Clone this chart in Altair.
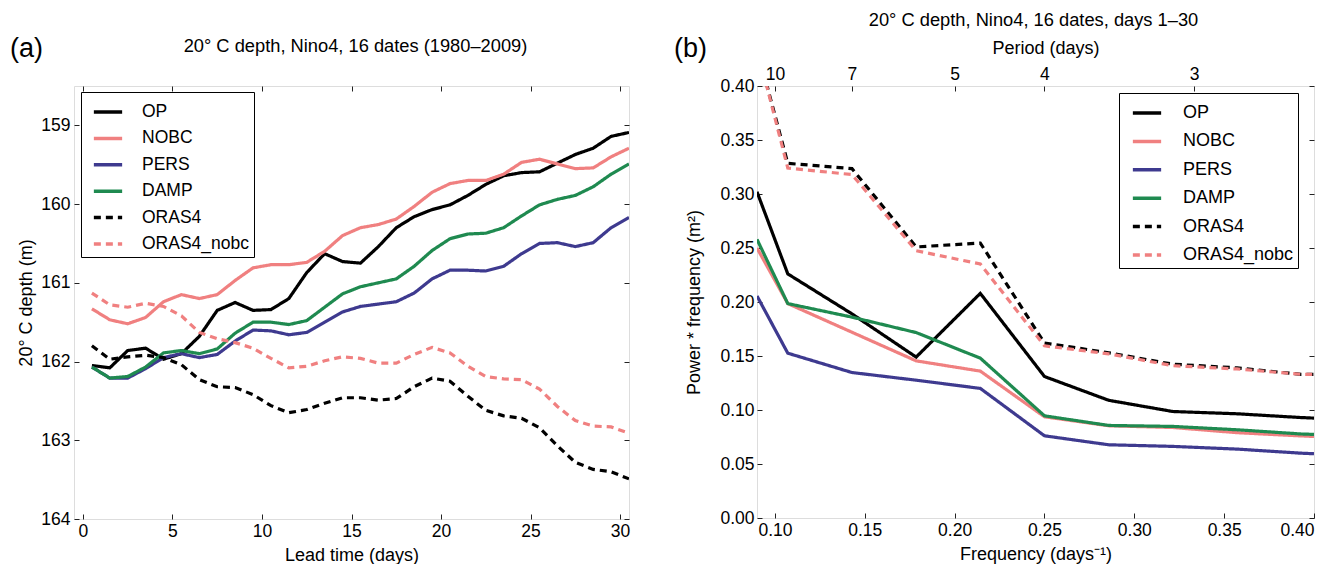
import altair as alt
import pandas as pd

FONT = "Liberation Sans"

series = ["OP", "NOBC", "PERS", "DAMP", "ORAS4", "ORAS4_nobc"]
colors = ["#000000", "#F08080", "#3E3A8F", "#1F8A50", "#000000", "#F08080"]
dashes = [[1, 0], [1, 0], [1, 0], [1, 0], [7, 5], [7, 5]]

# ---------- panel (a): 20C depth vs lead time ----------
lead = [0.5 + k for k in range(31)]
a_OP = [162.05, 162.08, 161.86, 161.83, 161.97, 161.90, 161.68, 161.35, 161.25, 161.35, 161.34,
        161.20, 160.87, 160.63, 160.73, 160.75, 160.54, 160.30, 160.16, 160.07, 160.01, 159.89,
        159.75, 159.64, 159.60, 159.59, 159.48, 159.37, 159.29, 159.14, 159.09]
a_NOBC = [161.33, 161.47, 161.52, 161.44, 161.24, 161.15, 161.20, 161.15, 160.97, 160.81, 160.77,
          160.77, 160.74, 160.60, 160.40, 160.30, 160.26, 160.19, 160.03, 159.85, 159.74, 159.70,
          159.70, 159.62, 159.47, 159.43, 159.49, 159.55, 159.54, 159.40, 159.29]
a_PERS = [162.07, 162.21, 162.21, 162.09, 161.95, 161.90, 161.95, 161.91, 161.74, 161.60, 161.61,
          161.66, 161.63, 161.50, 161.37, 161.30, 161.27, 161.24, 161.13, 160.95, 160.84, 160.84,
          160.85, 160.79, 160.63, 160.50, 160.49, 160.54, 160.49, 160.30, 160.17]
a_DAMP = [162.07, 162.21, 162.19, 162.07, 161.89, 161.86, 161.90, 161.84, 161.64, 161.50, 161.50,
          161.53, 161.48, 161.31, 161.14, 161.05, 161.00, 160.95, 160.79, 160.59, 160.44, 160.38,
          160.37, 160.30, 160.15, 160.01, 159.94, 159.89, 159.78, 159.62, 159.49]
a_ORAS4 = [161.80, 161.97, 161.94, 161.92, 161.95, 162.04, 162.23, 162.32, 162.33, 162.42, 162.56,
           162.65, 162.61, 162.53, 162.46, 162.46, 162.49, 162.47, 162.32, 162.21, 162.25, 162.44,
           162.62, 162.69, 162.72, 162.84, 163.07, 163.28, 163.37, 163.40, 163.49]
a_ORAS4_nobc = [161.13, 161.28, 161.31, 161.26, 161.30, 161.42, 161.63, 161.71, 161.76, 161.83, 161.96,
                162.08, 162.06, 161.99, 161.94, 161.96, 162.02, 162.02, 161.91, 161.82, 161.89, 162.06,
                162.19, 162.22, 162.23, 162.35, 162.57, 162.75, 162.82, 162.83, 162.91]

# ---------- panel (b): power*frequency vs frequency ----------
freq = [0.09, 3 / 28, 4 / 28, 5 / 28, 6 / 28, 7 / 28, 8 / 28, 9 / 28, 10 / 28, 11 / 28, 0.40]
b_OP = [0.302, 0.226, 0.189, 0.149, 0.208, 0.131, 0.109, 0.0986, 0.0965, 0.093, 0.0925]
b_NOBC = [0.250, 0.1985, 0.172, 0.1455, 0.136, 0.0937, 0.0854, 0.0838, 0.079, 0.076, 0.0755]
b_PERS = [0.2056, 0.1526, 0.1347, 0.1276, 0.120, 0.0761, 0.0678, 0.0663, 0.0638, 0.060, 0.0595]
b_DAMP = [0.258, 0.1985, 0.186, 0.1717, 0.148, 0.0946, 0.0857, 0.0848, 0.0817, 0.0778, 0.0774]
b_ORAS4 = [0.435, 0.3284, 0.3235, 0.251, 0.2546, 0.162, 0.153, 0.1424, 0.139, 0.133, 0.133]
b_ORAS4_nobc = [0.435, 0.324, 0.318, 0.2475, 0.2352, 0.1594, 0.152, 0.141, 0.138, 0.133, 0.133]

period_ticks = [10, 7, 5, 4, 3]

a_vals = [a_OP, a_NOBC, a_PERS, a_DAMP, a_ORAS4, a_ORAS4_nobc]
b_vals = [b_OP, b_NOBC, b_PERS, b_DAMP, b_ORAS4, b_ORAS4_nobc]

rows = []
for i, (s, vals) in enumerate(zip(series, a_vals)):
    for x, v in zip(lead, vals):
        rows.append({"lead": x, "depth": v, "series": s, "ord": i})
dfa = pd.DataFrame(rows)
rows = []
for i, (s, vals) in enumerate(zip(series, b_vals)):
    for x, v in zip(freq, vals):
        rows.append({"freq": x, "power": v, "series": s, "ord": i})
dfb = pd.DataFrame(rows)

WA, HA = 555, 433
WB, HB = 557, 432

TICK = dict(domain=False, grid=False, tickColor="#222222", tickSize=5, offset=-5, tickWidth=1,
            labelFont=FONT, labelFontSize=17.5, labelColor="black",
            titleFont=FONT, titleFontSize=18, titleFontWeight="normal", titleColor="black")


def legend(x, y, pad, rowpad, fs, soff, loff):
    return alt.Legend(title=None, orient="none", legendX=x, legendY=y,
                      symbolType="stroke", symbolSize=800, symbolStrokeWidth=3.5,
                      labelFont=FONT, labelFontSize=fs, labelColor="black", labelLimit=300,
                      strokeColor="black", fillColor="white", padding=pad,
                      rowPadding=rowpad, labelOffset=loff, symbolOffset=soff, cornerRadius=0)


def lines(df, xf, yf, xs, ys, xaxis, yaxis, leg):
    return alt.Chart(df).mark_line(strokeWidth=3.2, clip=True).encode(
        x=alt.X(f"{xf}:Q", scale=xs, axis=xaxis),
        y=alt.Y(f"{yf}:Q", scale=ys, axis=yaxis),
        color=alt.Color("series:N", scale=alt.Scale(domain=series, range=colors), legend=leg),
        strokeDash=alt.StrokeDash("series:N", scale=alt.Scale(domain=series, range=dashes), legend=leg),
        order="ord:Q",
    )


def text(label, x, y, size):
    return alt.Chart(pd.DataFrame({"t": [label]})).mark_text(
        font=FONT, fontSize=size, align="left" if label.startswith("(") else "center",
        baseline="middle", color="black").encode(text="t:N", x=alt.value(x), y=alt.value(y))


# panel (a)
xs_a = alt.Scale(domain=[-0.5, 30.5], nice=False, zero=False)
ys_a = alt.Scale(domain=[158.5, 164], reverse=True, nice=False, zero=False)
la = lines(dfa, "lead", "depth", xs_a, ys_a,
           alt.Axis(orient="bottom", values=[0, 5, 10, 15, 20, 25, 30], format="d",
                    title="Lead time (days)", labelPadding=3, titlePadding=7, **TICK),
           alt.Axis(orient="left", values=[159, 160, 161, 162, 163, 164], format="d",
                    title="20° C depth (m)", labelPadding=4, titlePadding=5, **TICK),
           legend(7, 6, 4, 1.4, 17.5, 7, 18))
ma = alt.Chart(dfa).mark_line(opacity=0).encode(
    x=alt.X("lead:Q", scale=xs_a, axis=alt.Axis(orient="top", values=[0, 5, 10, 15, 20, 25, 30],
                                                 labels=False, title=None, **TICK)),
    y=alt.Y("depth:Q", scale=ys_a, axis=alt.Axis(orient="right", values=[159, 160, 161, 162, 163, 164],
                                                  labels=False, title=None, **TICK)),
)
panel_a = alt.layer(
    la, ma,
    text("20° C depth, Nino4, 16 dates (1980–2009)", WA / 2 + 4, -39, 18.3),
    text("(a)", -64, -37, 27),
).resolve_axis(x="independent", y="independent").properties(width=WA, height=HA)

# panel (b)
xs_b = alt.Scale(domain=[0.09, 0.40], nice=False, zero=False)
ys_b = alt.Scale(domain=[0, 0.40], nice=False, zero=False)
lb = lines(dfb, "freq", "power", xs_b, ys_b,
           alt.Axis(orient="bottom", values=[0.10, 0.15, 0.20, 0.25, 0.30, 0.35, 0.40], format=".2f",
                    title="Frequency (days⁻¹)", labelPadding=3, titlePadding=7, **TICK),
           alt.Axis(orient="left", values=[0, 0.05, 0.10, 0.15, 0.20, 0.25, 0.30, 0.35, 0.40], format=".2f",
                    title="Power * frequency (m²)", labelPadding=3, titlePadding=16, **TICK),
           legend(362, 7, 4, 3.4, 18, 8, 20))
mb = alt.Chart(dfb).mark_line(opacity=0).encode(
    x=alt.X("freq:Q", scale=xs_b, axis=alt.Axis(orient="top", values=[1 / p for p in period_ticks],
                                                 labelExpr="format(1/datum.value, '.0f')",
                                                 title="Period (days)", labelPadding=3, titlePadding=8,
                                                 titleX=WB / 2 + 10, **TICK)),
    y=alt.Y("power:Q", scale=ys_b, axis=alt.Axis(orient="right",
                                                  values=[0, 0.05, 0.10, 0.15, 0.20, 0.25, 0.30, 0.35, 0.40],
                                                  labels=False, title=None, **TICK)),
)
panel_b = alt.layer(
    lb, mb,
    text("20° C depth, Nino4, 16 dates, days 1–30", WB / 2 - 2, -65, 18.3),
    text("(b)", -83, -37, 27),
).resolve_axis(x="independent", y="independent").properties(width=WB, height=HB)

chart = alt.hconcat(panel_a, panel_b, spacing=128, bounds="flush").resolve_scale(
    color="independent", strokeDash="independent"
).properties(
    padding={"left": 1, "top": 2, "right": 0, "bottom": 0}
).configure_view(stroke="#222222", strokeWidth=1.2).configure(background="white")

chart.save("out.html", embed_options={"renderer": "svg", "actions": False})
